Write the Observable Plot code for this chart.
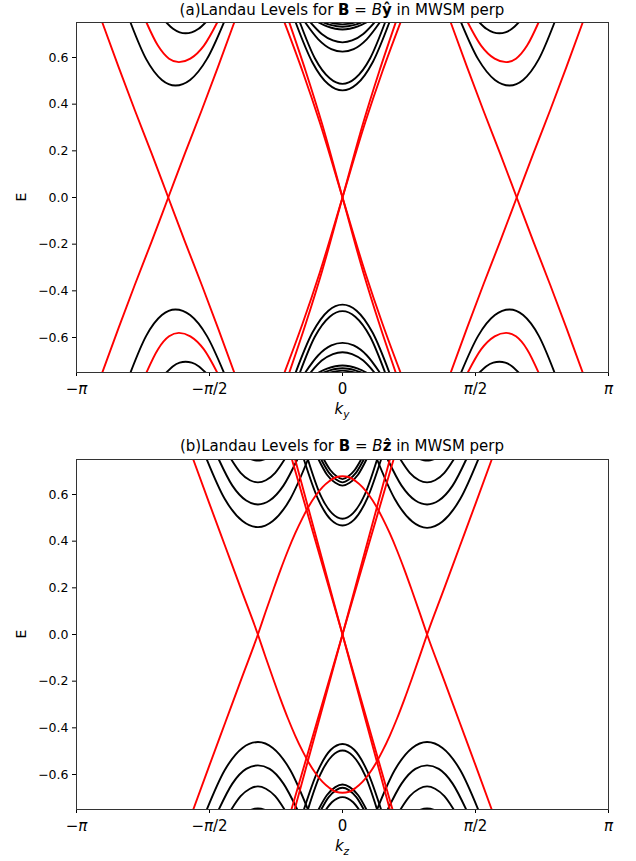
<!DOCTYPE html>
<html><head><meta charset="utf-8">
<script src="https://cdn.jsdelivr.net/npm/d3@7"></script>
<script src="https://cdn.jsdelivr.net/npm/@observablehq/plot@0.6"></script>
<style>
body{margin:0;background:#fff;font-family:"DejaVu Sans",sans-serif;}
#wrap{position:relative;width:636px;height:861px;overflow:hidden;}
.title{position:absolute;left:76px;width:532px;text-align:center;font-size:15px;line-height:20px;white-space:nowrap;color:#000;}
.panel{position:absolute;left:0;}
</style></head><body>
<div id="wrap">
<div class="title" style="top:0px">(a)Landau Levels for <b>B</b> = <i>B</i><b>ŷ</b> in MWSM perp</div>
<div class="panel" id="pa" style="top:20px"></div>
<div class="title" style="top:436px">(b)Landau Levels for <b>B</b> = <i>B</i><b>ẑ</b> in MWSM perp</div>
<div class="panel" id="pb" style="top:457px"></div>
</div>
<script>
// k in units of pi, E energy
const xTicks = [-1, -0.5, 0, 0.5, 1];
const xTickLabels = ["−π", "−π/2", "0", "π/2", "π"];
const yTicks = [-0.6, -0.4, -0.2, 0, 0.2, 0.4, 0.6];
const yTickLabels = ["−0.6", "−0.4", "−0.2", "0.0", "0.2", "0.4", "0.6"];

// Panel (a) red bands
const aRed = [
 [[-0.903,0.75],[-0.842,0.56],[-0.781,0.375],[-0.718,0.19],[-0.655,0],[-0.592,-0.19],[-0.529,-0.375],[-0.468,-0.56],[-0.407,-0.75]],
 [[-0.903,-0.75],[-0.842,-0.56],[-0.781,-0.375],[-0.718,-0.19],[-0.655,0],[-0.592,0.19],[-0.529,0.375],[-0.468,0.56],[-0.407,0.75]],
 [[0.407,0.75],[0.468,0.56],[0.529,0.375],[0.592,0.19],[0.655,0],[0.718,-0.19],[0.781,-0.375],[0.842,-0.56],[0.903,-0.75]],
 [[0.407,-0.75],[0.468,-0.56],[0.529,-0.375],[0.592,-0.19],[0.655,0],[0.718,0.19],[0.781,0.375],[0.842,0.56],[0.903,0.75]],
 [[-0.218,0.75],[-0.15,0.54],[-0.085,0.32],[0,0],[0.085,-0.32],[0.15,-0.54],[0.218,-0.75]],
 [[-0.2,0.75],[-0.138,0.54],[-0.078,0.32],[0,0],[0.078,-0.32],[0.138,-0.54],[0.2,-0.75]],
 [[0.218,0.75],[0.15,0.54],[0.085,0.32],[0,0],[-0.085,-0.32],[-0.15,-0.54],[-0.218,-0.75]],
 [[0.2,0.75],[0.138,0.54],[0.078,0.32],[0,0],[-0.078,-0.32],[-0.138,-0.54],[-0.2,-0.75]],
 [[-0.737,0.75],[-0.694,0.651],[-0.652,0.595],[-0.615,0.58],[-0.572,0.595],[-0.521,0.651],[-0.471,0.75]],
 [[-0.737,-0.75],[-0.694,-0.651],[-0.652,-0.595],[-0.615,-0.58],[-0.572,-0.595],[-0.521,-0.651],[-0.471,-0.75]],
 [[0.471,0.75],[0.521,0.651],[0.572,0.595],[0.615,0.58],[0.652,0.595],[0.694,0.651],[0.737,0.75]],
 [[0.471,-0.75],[0.521,-0.651],[0.572,-0.595],[0.615,-0.58],[0.652,-0.595],[0.694,-0.651],[0.737,-0.75]]
];

// Panel (a) black bands
const aBlack = [
 [[-0.797,0.75],[-0.738,0.593],[-0.679,0.504],[-0.628,0.48],[-0.573,0.504],[-0.51,0.593],[-0.446,0.75]],
 [[-0.662,0.75],[-0.637,0.723],[-0.612,0.708],[-0.59,0.704],[-0.567,0.708],[-0.541,0.723],[-0.515,0.75]],
 [[-0.797,-0.75],[-0.738,-0.593],[-0.679,-0.504],[-0.628,-0.48],[-0.573,-0.504],[-0.51,-0.593],[-0.446,-0.75]],
 [[-0.662,-0.75],[-0.637,-0.723],[-0.612,-0.708],[-0.59,-0.704],[-0.567,-0.708],[-0.541,-0.723],[-0.515,-0.75]],
 [[0.446,0.75],[0.51,0.593],[0.573,0.504],[0.628,0.48],[0.679,0.504],[0.738,0.593],[0.797,0.75]],
 [[0.515,0.75],[0.541,0.723],[0.567,0.708],[0.59,0.704],[0.612,0.708],[0.637,0.723],[0.662,0.75]],
 [[0.446,-0.75],[0.51,-0.593],[0.573,-0.504],[0.628,-0.48],[0.679,-0.504],[0.738,-0.593],[0.797,-0.75]],
 [[0.515,-0.75],[0.541,-0.723],[0.567,-0.708],[0.59,-0.704],[0.612,-0.708],[0.637,-0.723],[0.662,-0.75]],
 [[-0.176,0.75],[-0.114,0.581],[-0.053,0.485],[0,0.459],[0.053,0.485],[0.114,0.581],[0.176,0.75]],
 [[-0.16,0.75],[-0.104,0.597],[-0.048,0.511],[0,0.487],[0.048,0.511],[0.104,0.597],[0.16,0.75]],
 [[-0.14,0.75],[-0.091,0.678],[-0.042,0.636],[0,0.625],[0.042,0.636],[0.091,0.678],[0.14,0.75]],
 [[-0.12,0.75],[-0.078,0.701],[-0.036,0.673],[0,0.665],[0.036,0.673],[0.078,0.701],[0.12,0.75]],
 [[-0.09,0.75],[-0.058,0.733],[-0.027,0.723],[0,0.72],[0.027,0.723],[0.058,0.733],[0.09,0.75]],
 [[-0.07,0.75],[-0.045,0.74],[-0.021,0.734],[0,0.732],[0.021,0.734],[0.045,0.74],[0.07,0.75]],
 [[-0.045,0.75],[-0.02,0.744],[0,0.742],[0.02,0.744],[0.045,0.75]],
 [[-0.176,-0.75],[-0.114,-0.581],[-0.053,-0.485],[0,-0.459],[0.053,-0.485],[0.114,-0.581],[0.176,-0.75]],
 [[-0.16,-0.75],[-0.104,-0.597],[-0.048,-0.511],[0,-0.487],[0.048,-0.511],[0.104,-0.597],[0.16,-0.75]],
 [[-0.14,-0.75],[-0.091,-0.676],[-0.042,-0.634],[0,-0.623],[0.042,-0.634],[0.091,-0.676],[0.14,-0.75]],
 [[-0.12,-0.75],[-0.078,-0.699],[-0.036,-0.671],[0,-0.663],[0.036,-0.671],[0.078,-0.699],[0.12,-0.75]],
 [[-0.09,-0.75],[-0.058,-0.733],[-0.027,-0.723],[0,-0.72],[0.027,-0.723],[0.058,-0.733],[0.09,-0.75]],
 [[-0.07,-0.75],[-0.045,-0.74],[-0.021,-0.734],[0,-0.732],[0.021,-0.734],[0.045,-0.74],[0.07,-0.75]],
 [[-0.045,-0.75],[-0.02,-0.744],[0,-0.742],[0.02,-0.744],[0.045,-0.75]]
];

// Panel (b) red bands
const bRed = [
 [[-0.561,-0.75],[-0.5,-0.56],[-0.44,-0.375],[-0.38,-0.19],[-0.318,0],[-0.29,0.094],[-0.259,0.195],[-0.233,0.277],[-0.205,0.36],[-0.178,0.433],[-0.15,0.5],[-0.125,0.553],[-0.1,0.597],[-0.075,0.632],[-0.05,0.657],[-0.025,0.674],[0,0.678],[0.025,0.674],[0.05,0.657],[0.075,0.632],[0.1,0.597],[0.125,0.553],[0.15,0.5],[0.178,0.433],[0.205,0.36],[0.233,0.277],[0.259,0.195],[0.29,0.094],[0.318,0],[0.38,-0.19],[0.44,-0.375],[0.5,-0.56],[0.561,-0.75]],
 [[-0.561,0.75],[-0.5,0.56],[-0.44,0.375],[-0.38,0.19],[-0.318,0],[-0.29,-0.094],[-0.259,-0.195],[-0.233,-0.277],[-0.205,-0.36],[-0.178,-0.433],[-0.15,-0.5],[-0.125,-0.553],[-0.1,-0.597],[-0.075,-0.632],[-0.05,-0.657],[-0.025,-0.674],[0,-0.678],[0.025,-0.674],[0.05,-0.657],[0.075,-0.632],[0.1,-0.597],[0.125,-0.553],[0.15,-0.5],[0.178,-0.433],[0.205,-0.36],[0.233,-0.277],[0.259,-0.195],[0.29,-0.094],[0.318,0],[0.38,0.19],[0.44,0.375],[0.5,0.56],[0.561,0.75]],
 [[-0.19,0.75],[0,0],[0.188,-0.75]],
 [[-0.178,0.75],[0,0],[0.178,-0.75]],
 [[-0.192,-0.75],[0,0],[0.192,0.75]],
 [[-0.18,-0.75],[0,0],[0.178,0.75]]
];

// Panel (b) black bands
const bBlack = [
 [[-0.51,0.75],[-0.443,0.582],[-0.376,0.486],[-0.318,0.46],[-0.262,0.486],[-0.196,0.582],[-0.13,0.75]],
 [[-0.465,0.75],[-0.414,0.638],[-0.362,0.574],[-0.318,0.557],[-0.274,0.574],[-0.222,0.638],[-0.17,0.75]],
 [[-0.418,0.75],[-0.383,0.693],[-0.348,0.661],[-0.318,0.652],[-0.288,0.661],[-0.253,0.693],[-0.218,0.75]],
 [[-0.345,0.752],[-0.33,0.747],[-0.318,0.746],[-0.306,0.747],[-0.291,0.752]],
 [[-0.51,-0.75],[-0.443,-0.582],[-0.376,-0.486],[-0.318,-0.461],[-0.262,-0.486],[-0.196,-0.582],[-0.13,-0.75]],
 [[-0.465,-0.75],[-0.414,-0.639],[-0.362,-0.576],[-0.318,-0.561],[-0.274,-0.576],[-0.222,-0.639],[-0.17,-0.75]],
 [[-0.418,-0.75],[-0.383,-0.693],[-0.348,-0.661],[-0.318,-0.651],[-0.288,-0.661],[-0.253,-0.693],[-0.218,-0.75]],
 [[-0.345,-0.752],[-0.33,-0.747],[-0.318,-0.746],[-0.306,-0.747],[-0.291,-0.752]],
 [[0.13,0.75],[0.196,0.582],[0.262,0.484],[0.318,0.457],[0.376,0.484],[0.443,0.582],[0.51,0.75]],
 [[0.17,0.75],[0.222,0.638],[0.274,0.574],[0.318,0.557],[0.362,0.574],[0.414,0.638],[0.465,0.75]],
 [[0.218,0.75],[0.253,0.693],[0.288,0.661],[0.318,0.652],[0.348,0.661],[0.383,0.693],[0.418,0.75]],
 [[0.291,0.752],[0.306,0.747],[0.318,0.746],[0.33,0.747],[0.345,0.752]],
 [[0.13,-0.75],[0.196,-0.582],[0.262,-0.486],[0.318,-0.461],[0.376,-0.486],[0.443,-0.582],[0.51,-0.75]],
 [[0.17,-0.75],[0.222,-0.639],[0.274,-0.576],[0.318,-0.561],[0.362,-0.576],[0.414,-0.639],[0.465,-0.75]],
 [[0.218,-0.75],[0.253,-0.693],[0.288,-0.661],[0.318,-0.651],[0.348,-0.661],[0.383,-0.693],[0.418,-0.75]],
 [[0.291,-0.752],[0.306,-0.747],[0.318,-0.746],[0.33,-0.747],[0.345,-0.752]],
 [[-0.145,0.75],[-0.094,0.586],[-0.044,0.492],[0,0.467],[0.044,0.492],[0.094,0.586],[0.145,0.75]],
 [[-0.13,0.75],[-0.085,0.603],[-0.039,0.519],[0,0.496],[0.039,0.519],[0.085,0.603],[0.13,0.75]],
 [[-0.09,0.75],[-0.059,0.686],[-0.027,0.65],[0,0.638],[0.027,0.65],[0.059,0.686],[0.09,0.75]],
 [[-0.08,0.75],[-0.052,0.695],[-0.024,0.664],[0,0.652],[0.024,0.664],[0.052,0.695],[0.08,0.75]],
 [[-0.07,0.75],[-0.046,0.705],[-0.021,0.677],[0,0.666],[0.021,0.677],[0.046,0.705],[0.07,0.75]],
 [[-0.145,-0.75],[-0.094,-0.588],[-0.044,-0.494],[0,-0.469],[0.044,-0.494],[0.094,-0.588],[0.145,-0.75]],
 [[-0.13,-0.75],[-0.085,-0.604],[-0.039,-0.52],[0,-0.497],[0.039,-0.52],[0.085,-0.604],[0.13,-0.75]],
 [[-0.09,-0.75],[-0.059,-0.689],[-0.027,-0.654],[0,-0.643],[0.027,-0.654],[0.059,-0.689],[0.09,-0.75]],
 [[-0.08,-0.75],[-0.052,-0.697],[-0.024,-0.667],[0,-0.657],[0.024,-0.667],[0.052,-0.697],[0.08,-0.75]],
 [[-0.062,-0.75],[-0.04,-0.719],[-0.019,-0.702],[0,-0.697],[0.019,-0.702],[0.04,-0.719],[0.062,-0.75]]
];

function toRows(curves, tag) {
  return curves.flatMap((c, i) => c.map(([k, E]) => ({k, E, id: tag + i})));
}

function makePanel(red, black, sub, target) {
  const fig = Plot.plot({
    width: 636, height: 404,
    marginTop: 2, marginBottom: 52, marginLeft: 76, marginRight: 28,
    x: {domain: [-1, 1]},
    y: {domain: [-0.75, 0.75]},
    style: {fontFamily: "DejaVu Sans", background: "white", color: "#000"},
    marks: [
      Plot.line(toRows(black, "b"), {x: "k", y: "E", z: "id", stroke: "black", strokeWidth: 1.9, curve: "monotone-x", clip: true}),
      Plot.line(toRows(red, "r"), {x: "k", y: "E", z: "id", stroke: "red", strokeWidth: 1.9, curve: "monotone-x", clip: true}),
      Plot.axisX(xTicks, {tickSize: 4, tickPadding: 7, fontSize: 15, tickFormat: d => xTickLabels[xTicks.indexOf(d)], label: null}),
      Plot.axisY(yTicks, {tickSize: 4, tickPadding: 4, fontSize: 12.5, tickFormat: d => yTickLabels[yTicks.indexOf(d)], label: null}),
      Plot.frame({stroke: "#333"})
    ]
  });
  const svg = d3.select(fig);
  // italic pi in x tick labels, as in the math-text original
  svg.selectAll('g[aria-label="x-axis tick label"] text').each(function() {
    const s = this.textContent;
    const el = d3.select(this);
    el.text(null);
    s.split(/(π)/).filter(p => p.length).forEach(p => {
      const ts = el.append("tspan").text(p);
      if (p === "π") ts.style("font-style", "italic");
    });
  });
  const t = svg.append("text").attr("x", 342).attr("y", 394).attr("text-anchor", "middle")
    .style("font-family", "DejaVu Sans").style("font-size", "15px").style("font-style", "italic").attr("fill", "#000");
  t.append("tspan").text("k");
  t.append("tspan").style("font-size", "10.5px").attr("dy", 3.5).text(sub);
  svg.append("text").attr("transform", "translate(26,177) rotate(-90)").attr("text-anchor", "middle")
    .style("font-family", "DejaVu Sans").style("font-size", "14px").attr("fill", "#000").text("E");
  document.getElementById(target).appendChild(fig);
}

makePanel(aRed, aBlack, "y", "pa");
makePanel(bRed, bBlack, "z", "pb");
</script>
</body></html>
